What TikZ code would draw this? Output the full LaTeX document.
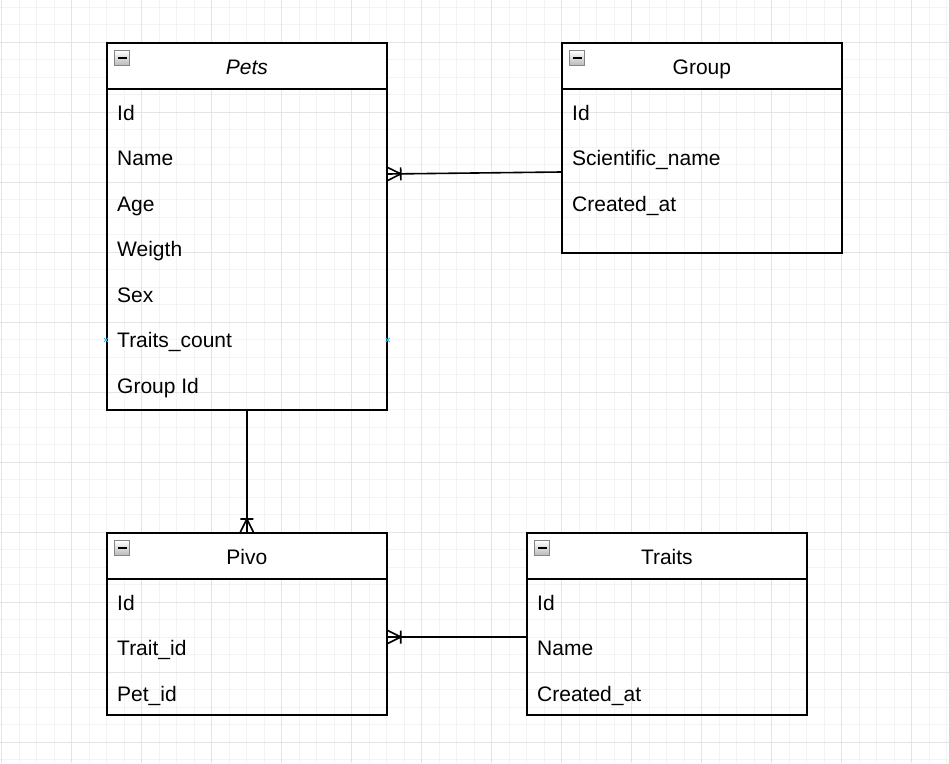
\documentclass[tikz,border=0pt]{standalone}
\usepackage{fontspec}
\setmainfont{Liberation Sans}
\usetikzlibrary{arrows.meta,calc,positioning}
\definecolor{gridminor}{HTML}{F3F3F3}
\definecolor{gridmajor}{HTML}{E4E4E4}
\definecolor{iconline}{HTML}{858585}
\definecolor{hoverblue}{HTML}{29B6F2}

% one-or-many crow's foot, toes at the end point
\pgfdeclarearrow{
  name = crowbar,
  setup code = {
    \pgfarrowssettipend{0pt}
    \pgfarrowssetlineend{0pt}
    \pgfarrowssetbackend{-13pt}
    \pgfarrowshullpoint{0pt}{6.5pt}
    \pgfarrowshullpoint{0pt}{-6.5pt}
    \pgfarrowshullpoint{-13pt}{6.5pt}
    \pgfarrowshullpoint{-13pt}{-6.5pt}
  },
  drawing code = {
    \pgfsetdash{}{0pt}
    \pgfsetroundjoin
    \pgfpathmoveto{\pgfqpoint{0pt}{6.5pt}}
    \pgfpathlineto{\pgfqpoint{-13pt}{0pt}}
    \pgfpathlineto{\pgfqpoint{0pt}{-6.5pt}}
    \pgfpathmoveto{\pgfqpoint{-13pt}{6.5pt}}
    \pgfpathlineto{\pgfqpoint{-13pt}{-6.5pt}}
    \pgfusepathqstroke
  }
}

\tikzset{
    x=1pt, y=-1pt,
    head/.style ={rectangle, draw, fill=white, line width=1.75pt, minimum width=280pt, minimum height=46pt,
                  inner sep=0pt, anchor=north west, text height=18pt, text depth=0pt, font=\fontsize{21}{25}\selectfont},
    body/.style ={rectangle, draw, line width=1.75pt, minimum width=280pt, inner sep=0pt, anchor=north west},
    field/.style = {anchor=base west, inner sep=0pt, font=\fontsize{21}{25}\selectfont},
    icon/.style = {rectangle, draw=iconline, line width=1pt, minimum size=15pt, inner sep=0pt,
                   top color=white, bottom color=gray!55,
                   path picture={\fill[black] ($(path picture bounding box.center)+(-4.5,-1.3)$) rectangle
                                              ($(path picture bounding box.center)+(4.5,1.3)$);}},
    relation/.style = {-crowbar, line width=1.6pt},
    hover/.style = {hoverblue, line width=0.8pt}
}

\begin{document}
\begin{tikzpicture}
  \useasboundingbox (0,0) rectangle (949,763);
  \fill[white] (0,0) rectangle (949,763);
  % grid
  \foreach \i in {0,...,54} \draw[gridminor, line width=1pt] (1.7+17.5*\i,0) -- (1.7+17.5*\i,763);
  \foreach \j in {0,...,43} \draw[gridminor, line width=1pt] (0,7.3+17.5*\j) -- (949,7.3+17.5*\j);
  \foreach \i in {0,...,13} \draw[gridmajor, line width=1pt] (1.7+70*\i,0) -- (1.7+70*\i,763);
  \foreach \j in {0,...,10} \draw[gridmajor, line width=1pt] (0,42.3+70*\j) -- (949,42.3+70*\j);

  % Pets
  \node[body, minimum height=321pt] (petsbody) at (106,88) {};
  \node[head] (petshead) at (106,42) {\itshape Pets};
  \node[icon] at ($(petshead.north west)+(16,16)$) {};
  \foreach \f [count=\i from 0] in {Id,Name,Age,Weigth,Sex,Traits\_count,Group Id}
    \node[field] (pets-\i) at (117,120+45.5*\i) {\f};

  % Group
  \node[body, minimum height=164pt] (grpbody) at (561,88) {};
  \node[head] (grphead) at (561,42) {Group};
  \node[icon] at ($(grphead.north west)+(16,16)$) {};
  \foreach \f [count=\i from 0] in {Id,Scientific\_name,Created\_at}
    \node[field] (grp-\i) at (572,120+45.5*\i) {\f};

  % Pivo
  \node[body, minimum height=136pt] (pivobody) at (106,578) {};
  \node[head] (pivohead) at (106,532) {Pivo};
  \node[icon] at ($(pivohead.north west)+(16,16)$) {};
  \foreach \f [count=\i from 0] in {Id,Trait\_id,Pet\_id}
    \node[field] (pivo-\i) at (117,610+45.5*\i) {\f};

  % Traits
  \node[body, minimum height=136pt] (traitsbody) at (526,578) {};
  \node[head] (traitshead) at (526,532) {Traits};
  \node[icon] at ($(traitshead.north west)+(16,16)$) {};
  \foreach \f [count=\i from 0] in {Id,Name,Created\_at}
    \node[field] (traits-\i) at (537,610+45.5*\i) {\f};

  % relations
  \draw[relation] ($(grpbody.north west)+(0,84)$) -- ($(petsbody.north east)+(0,86)$);
  \draw[relation] (petsbody.south) -- (pivohead.north);
  \draw[relation] ($(traitsbody.north west)+(0,59)$) -- ($(pivobody.north east)+(0,59)$);

  % connection points on hover
  \foreach \s in {west,east}
    \draw[hover] ($(petsbody.\s |- pets-5)+(0,-2)$) +(-2,-2) -- +(2,2) +(-2,2) -- +(2,-2);
\end{tikzpicture}
\end{document}
